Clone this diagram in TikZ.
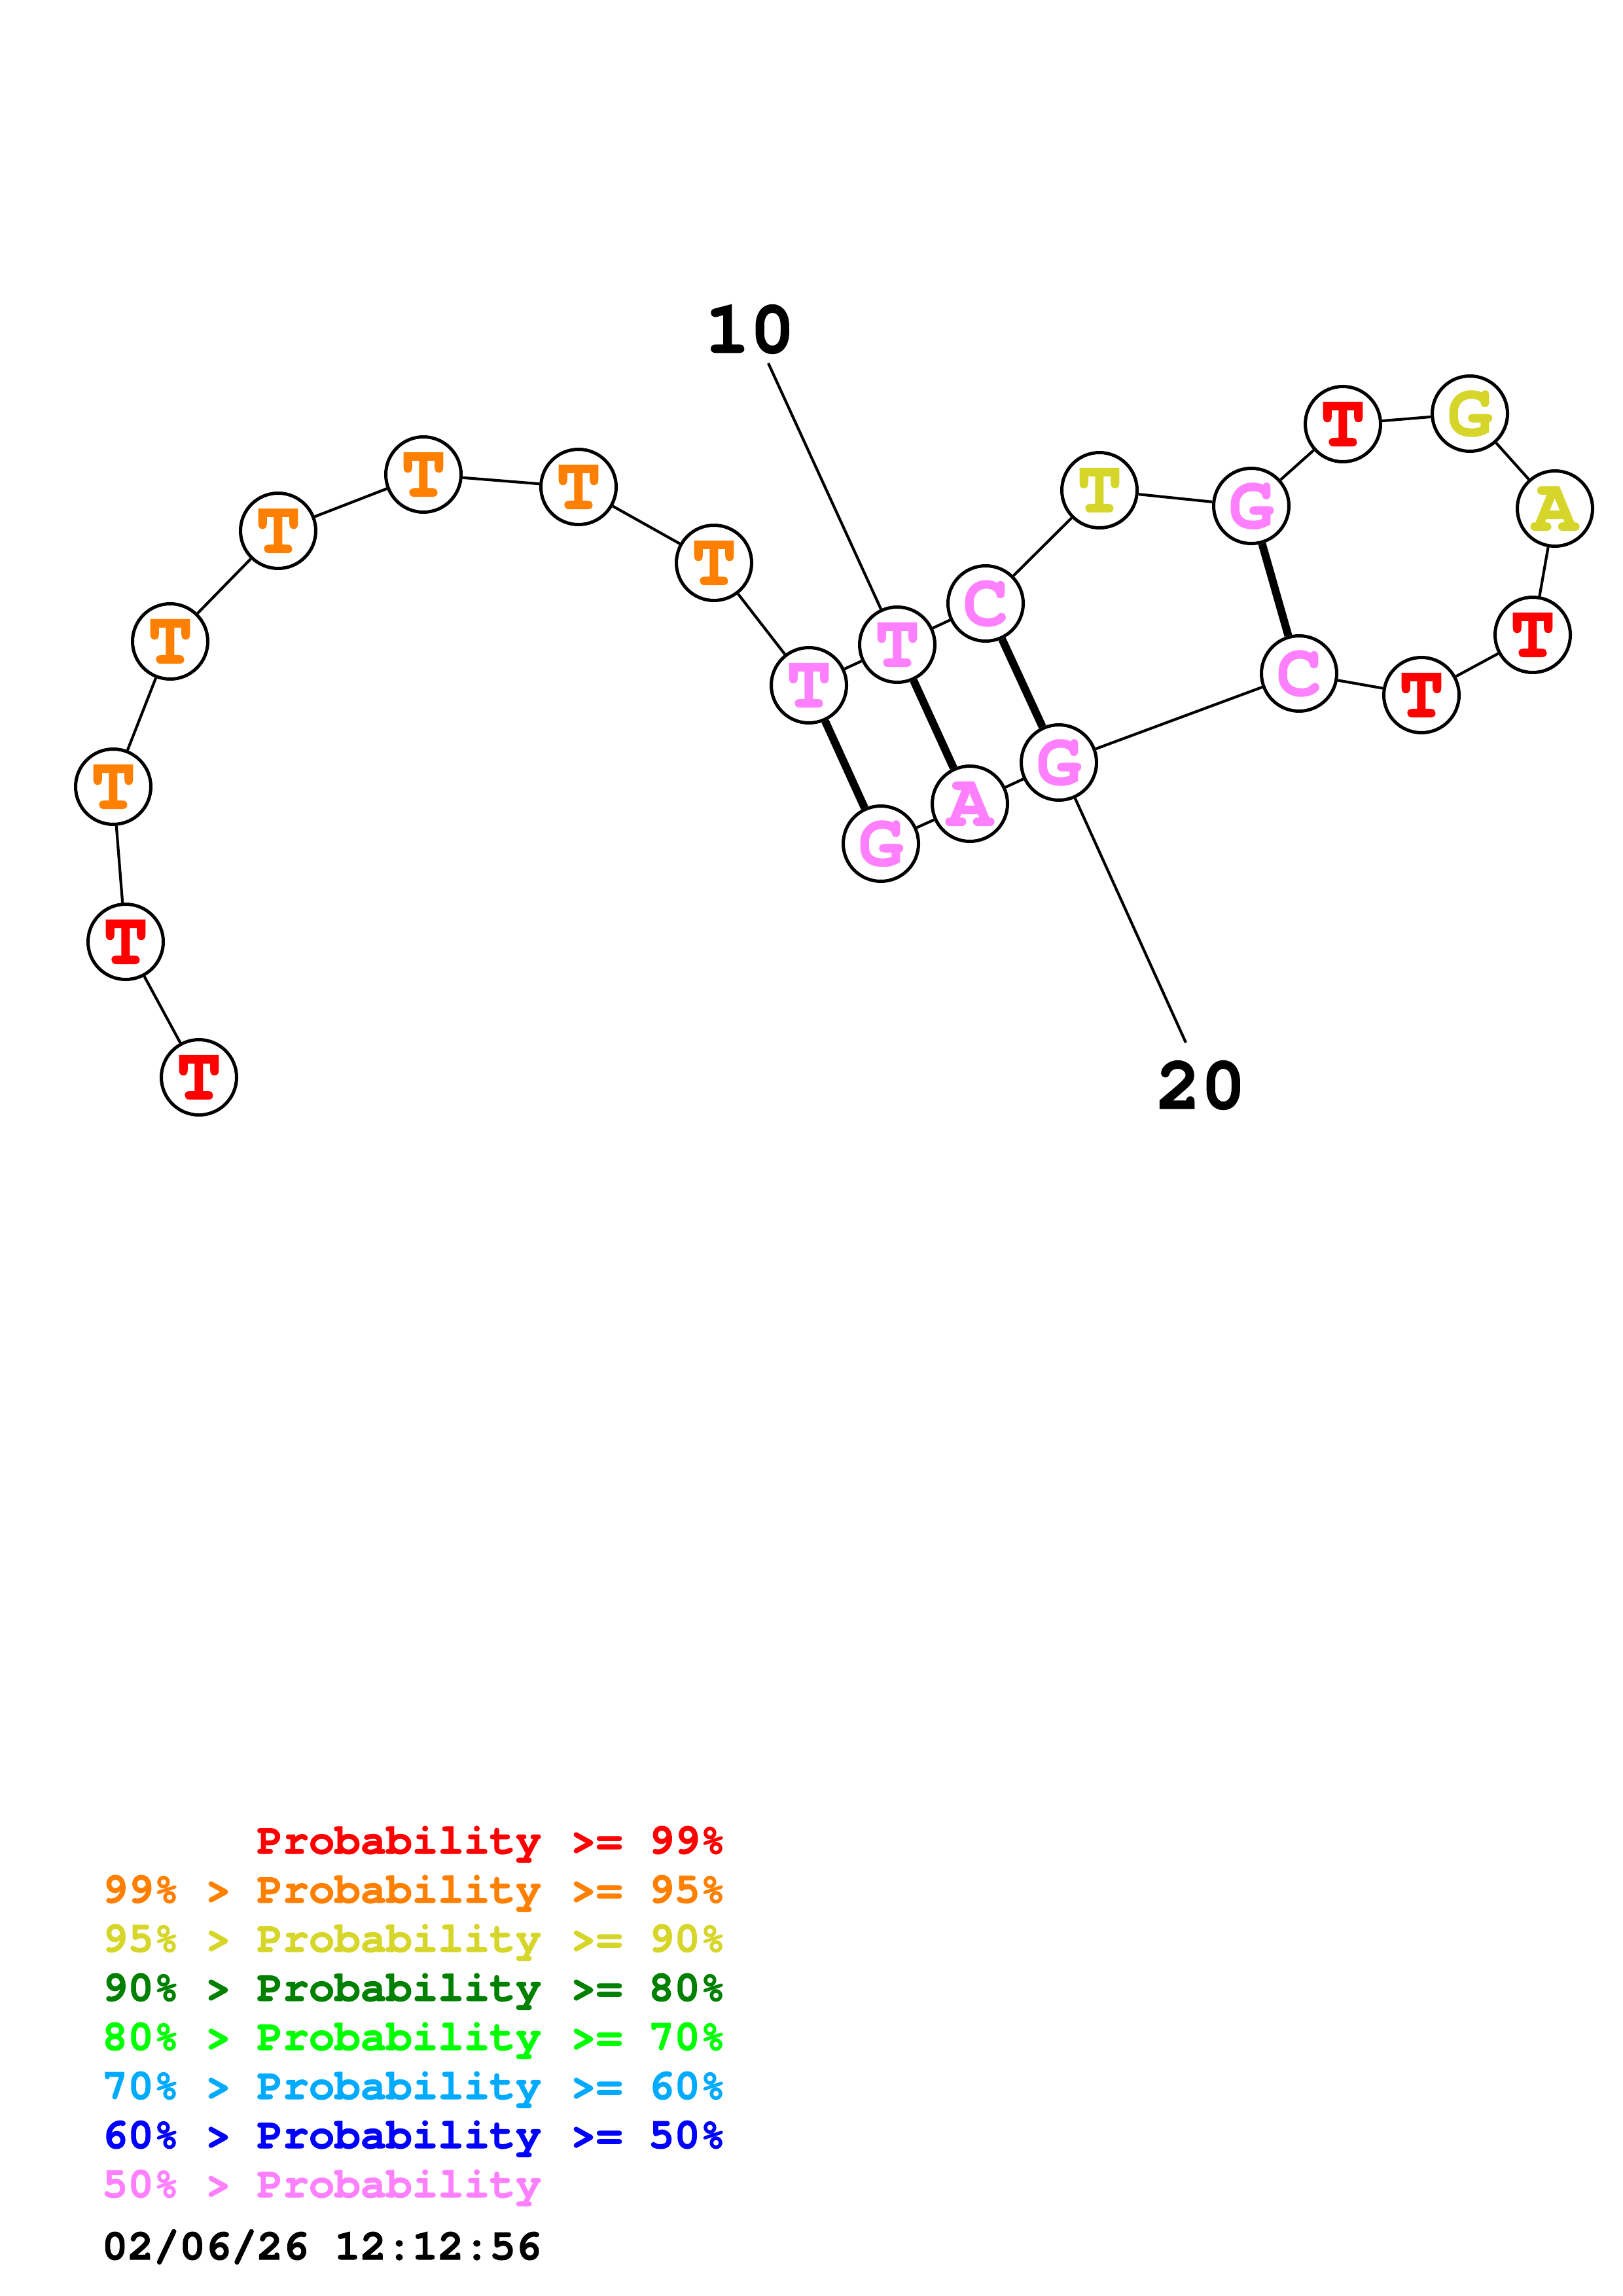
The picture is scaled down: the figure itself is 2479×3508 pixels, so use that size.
\documentclass[tikz,border=0pt]{standalone}
\usepackage{fontspec}
\newfontfamily\cur{texgyrecursor-regular.otf}[BoldFont=texgyrecursor-bold.otf, BoldFeatures={FakeBold=1.5}]
\definecolor{cR}{HTML}{FF0000}
\definecolor{cO}{HTML}{FF8000}
\definecolor{cY}{HTML}{D6D62A}
\definecolor{cDG}{HTML}{008000}
\definecolor{cLG}{HTML}{00FF00}
\definecolor{cS}{HTML}{00AAFF}
\definecolor{cB}{HTML}{0000FF}
\definecolor{cP}{HTML}{FF80FF}
\tikzset{
  nt/.style={circle, draw=black, line width=1.2pt, minimum size=27.6pt, inner sep=0pt, fill=white,
    font=\cur\bfseries\fontsize{27.4}{27.4}\selectfont},
  bb/.style={line width=1.0pt},
  pair/.style={line width=2.9pt},
  lab/.style={font=\cur\bfseries\fontsize{27.4}{27.4}\selectfont, inner sep=0pt},
  lg/.style={anchor=base west, inner sep=0pt, font=\cur\bfseries\fontsize{15.8}{15.8}\selectfont}
}
\begin{document}
\begin{tikzpicture}[x=0.24pt,y=-0.24pt]
\useasboundingbox (0,0) rectangle (2479,3508);
% nucleotides
\node[nt, text=cR] (n1) at (304,1646) {T};
\node[nt, text=cR] (n2) at (192,1439) {T};
\node[nt, text=cO] (n3) at (173,1202) {T};
\node[nt, text=cO] (n4) at (260,980) {T};
\node[nt, text=cO] (n5) at (425,811) {T};
\node[nt, text=cO] (n6) at (647,725) {T};
\node[nt, text=cO] (n7) at (884,744) {T};
\node[nt, text=cO] (n8) at (1091,860) {T};
\node[nt, text=cP] (n9) at (1236,1047) {T};
\node[nt, text=cP] (n10) at (1371,985) {T};
\node[nt, text=cP] (n11) at (1506,922) {C};
\node[nt, text=cY] (n12) at (1680,749) {T};
\node[nt, text=cP] (n13) at (1912,773) {G};
\node[nt, text=cR] (n14) at (2052,648) {T};
\node[nt, text=cY] (n15) at (2246,632) {G};
\node[nt, text=cY] (n16) at (2376,777) {A};
\node[nt, text=cR] (n17) at (2342,970) {T};
\node[nt, text=cR] (n18) at (2172,1062) {T};
\node[nt, text=cP] (n19) at (1985,1029) {C};
\node[nt, text=cP] (n20) at (1618,1165) {G};
\node[nt, text=cP] (n21) at (1482,1228) {A};
\node[nt, text=cP] (n22) at (1346,1289) {G};
% backbone
\foreach \a/\b in {1/2,2/3,3/4,4/5,5/6,6/7,7/8,8/9,9/10,10/11,11/12,12/13,13/14,14/15,15/16,16/17,17/18,18/19,19/20,20/21,21/22}
  \draw[bb] (n\a) -- (n\b);
% pairs
\draw[pair] (n9) -- (n22);
\draw[pair] (n10) -- (n21);
\draw[pair] (n11) -- (n20);
\draw[pair] (n13) -- (n19);
% position labels
\node[lab] (l10) at (1146,503) {10};
\node[lab] (l20) at (1835,1658) {20};
\coordinate (c10) at (1174,555);
\coordinate (c20) at (1812,1593);
\draw[bb] (c10) -- (n10);
\draw[bb] (n20) -- (c20);
% legend
\foreach \y/\c/\l/\r [count=\i] in {2832/cR//99,2907/cO/99/95,2982/cY/95/90,3057/cDG/90/80,3132/cLG/80/70,3207/cS/70/60,3282/cB/60/50}{
  \node[lg, text=\c] (p\i) at (392,\y) {Probability};
  \node[lg, text=\c] (g\i) at (871,\y) {>=};
  \node[lg, text=\c] (r\i) at (990,\y) {\r\%};
}
\foreach \y/\c/\l [count=\i from 2] in {2907/cO/99,2982/cY/95,3057/cDG/90,3132/cLG/80,3207/cS/70,3282/cB/60,3357/cP/50}{
  \node[lg, text=\c] (a\i) at (155,\y) {\l\%};
  \node[lg, text=\c] (b\i) at (313,\y) {>};
}
\node[lg, text=cP] (p8) at (392,3357) {Probability};
\node[lg, text=black] (date) at (155,3452) {02/06/26\ 12:12:56};
\end{tikzpicture}
\end{document}
